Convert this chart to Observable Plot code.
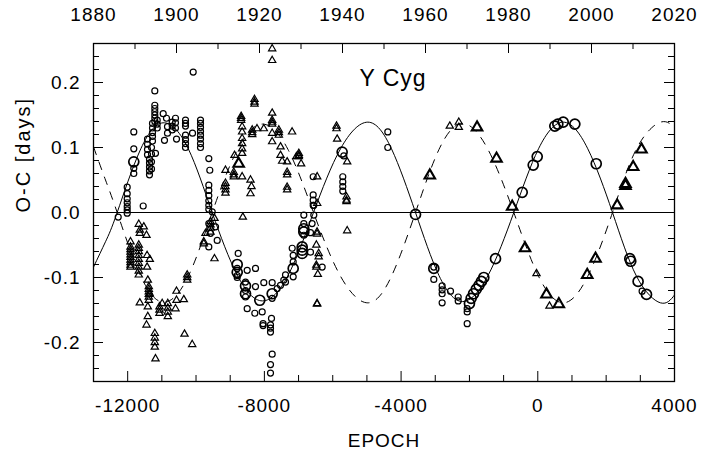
<!DOCTYPE html>
<html><head><meta charset="utf-8">
<script src="https://cdn.jsdelivr.net/npm/d3@7"></script>
<script src="https://cdn.jsdelivr.net/npm/@observablehq/plot@0.6"></script>
<style>
html,body{margin:0;padding:0;background:#fff;}
#chart svg{display:block;}
</style>
</head><body><div id="chart"></div>
<script>
// ---------- primary minima (circles): epoch, O-C [days], weight ----------
const primEpoch = [
  -12277, -12014,-12014,-12014,-12014,-12014,-12014,-12014, -11821,-11821,-11821,-11821,-11821, -11546,
  -11420,-11420,-11420,-11420, -11362,-11362,-11362,-11362,-11362, -11303,-11303,-11303,-11303,
  -11274,-11274,-11274,-11274,-11274, -11206,-11206,-11206,-11206,-11206,-11206,-11206, -11186, -11136,-11136,-11136,
  -10961, -10923, -10864, -10835,-10835, -10697,-10697,-10697, -10601,-10601,-10601, -10571,
  -10308,-10308,-10308,-10308,-10308,-10308,-10308, -10103, -10083, -9869,-9869,-9869,-9869,-9869,-9869,-9869,-9869,
  -9626,-9626,-9626,-9626,-9626,-9626,-9626, -9597, -9527, -9626, -9430, -9577, -9380, -9626,
  -8766, -8795,-8795,-8795,-8795,-8795, -8503, -8260, -8552,-8552,-8552,-8552,-8552, -8503, -8260, -8280, -8134, -8064, -8017,
  -7772,-7772,-7772, -8038,-8038, -7792, -7821,-7821,-7821,-7821,-7821, -7772, -7625, -7432, -7382,-7382, -7528,
  -7186, -7157,-7157,-7157,-7157, -6894,-6894,-6894, -6651,-6651, -6309, -6846,-6846,-6846,-6846,-6846, -6604, -6554,-6554, -6572,-6572,-6572,-6572,
  -5725, -5676, -5706,-5706,-5706,-5706, -4389,-4389,
  -3578, -3043,-3043,-3043, -2799,-2799,-2799,-2799, -2554, -2329,-2329, -2066,-2066,-2066, -2000,-1950,-1880,-1800,-1720,-1650,-1580, -1237,
  -456, -134, -17, 498, 586, 744, 1084, 1710,
  2692, 2720, 2935, 3052, 3181
];
const primOC = [
  -0.007, 0.039,0.029,0.021,0.015,0.009,0.004,-0.001, 0.124,0.098,0.078,0.068,0.060, 0.010,
  0.113,0.105,0.097,0.089, 0.082,0.076,0.070,0.064,0.058, 0.100,0.090,0.078,0.067,
  0.137,0.130,0.123,0.117,0.110, 0.187,0.165,0.160,0.155,0.150,0.145,0.140, 0.091, 0.142,0.136,0.130,
  0.152, 0.111, 0.145, 0.132,0.122, 0.139,0.133,0.127, 0.145,0.138,0.130, 0.113,
  0.142,0.137,0.133,0.119,0.112,0.106,0.100, 0.122, 0.216, 0.142,0.137,0.131,0.125,0.119,0.113,0.106,0.100,
  0.083,0.042,0.034,0.026,0.018,0.011,0.005, 0.065, 0.001, -0.017, -0.022, -0.032, -0.043, -0.053,
  -0.063, -0.080,-0.086,-0.092,-0.097,-0.100, -0.089, -0.086, -0.107,-0.113,-0.120,-0.125,-0.130, -0.148, -0.114, -0.155, -0.135, -0.153, -0.108,
  -0.108,-0.125,-0.132, -0.171,-0.174, -0.163, -0.173,-0.178,-0.184,-0.234,-0.247, -0.218, -0.117, -0.104, -0.096,-0.107, -0.112,
  -0.055, -0.066,-0.076,-0.086,-0.099, -0.053,-0.058,-0.063, -0.061,-0.031, -0.084, -0.004,-0.017,-0.025,-0.030,-0.035, -0.017, 0.011,-0.004, 0.055,0.027,0.019,0.011,
  0.093, 0.087, 0.055,0.047,0.040,0.033, 0.124, 0.100,
  -0.003, -0.086,-0.084,-0.103, -0.113,-0.119,-0.125,-0.139, -0.121, -0.130,-0.136, -0.148,-0.153,-0.171, -0.140,-0.132,-0.125,-0.118,-0.112,-0.106,-0.100, -0.071,
  0.031, 0.073, 0.086, 0.133, 0.136, 0.139, 0.136, 0.075,
  -0.071, -0.075, -0.106, -0.121, -0.126
];
const primWeight = [
  1, 1,1,1,1,1,1,1, 1,1,2,1,1, 1,
  1,1,1,1, 1,1,1,1,1, 1,1,1,1,
  1,1,1,1,1, 1,1,1,1,1,1,1, 1, 1,1,1,
  1, 1, 1, 1,1, 1,1,1, 1,1,1, 1,
  1,1,1,1,1,1,1, 1, 1, 1,1,1,1,1,1,1,1,
  1,1,1,1,1,1,1, 1, 1, 1, 1, 1, 1, 1,
  1, 2,1,2,1,1, 1, 1, 1,2,1,2,1, 1, 1, 1, 2, 1, 1,
  1,2,1, 1,1, 1, 1,1,1,1,1, 1, 1, 1, 1,1, 1,
  1, 1,1,2,1, 2,2,2, 1,1, 1, 1,1,2,2,1, 1, 1,1, 1,1,1,1,
  2, 1, 1,1,1,1, 1,1,
  2, 2,1,1, 1,1,1,1, 1, 1,1, 1,1,1, 2,2,2,2,2,2,2, 2,
  2, 2, 2, 2, 2, 2, 2, 2,
  2, 2, 2, 1, 2
];

// ---------- secondary minima (triangles): epoch, O-C [days], weight ----------
const secEpoch = [
  -11917,-11917,-11917,-11917,-11917,-11917,-11917,-11917,-11917,-11917,
  -11675, -11645,-11645, -11529, -11449,
  -11675,-11675,-11675,-11675,-11675,-11675,-11675,-11675,-11675, -11645,
  -11432,-11432, -11353,-11353, -11411,-11411,-11411, -11382,-11382,-11382,-11382,-11382,-11382, -11449,
  -11206,-11206,-11206,-11206, -11186, -11069,-11069,-11069, -10990, -10826,-10826,-10826,-10826,
  -10571,-10571, -10601, -10358, -10337, -10112, -10258,-10258,-10258,
  -9773,-9773, -9723, -9577,-9577,-9577,-9577, -9460,-9460, -8631,
  -9138,-9138,-9138,-9138,-9138, -8895,-8895,-8895, -8874, -8752,
  -8680,-8680,-8680, -8651,-8651,-8651,-8651,-8651,-8651,-8651, -8406,-8406, -8377,
  -8356,-8356,-8356, -8289,-8289,-8289, -8216, -8017,
  -7772,-7772,-7772,-7772,-7772,-7772,-7772,-7772, -7577,-7577,-7577, -7528,-7528, -7480,
  -7334,-7334,-7334,-7334,-7334, -7189, -6993,-6993,-6993, -7063, -6925,
  -6455,-6455, -5890,-5890, -5871, -5577, -5597,-5597,-5597, -5577,
  -6458,-6458, -6479, -6411,-6411, -6479,-6479, -6437, -6458,-6458,
  -3160, -2575, -2311,-2311, -1777, -1208, -749, -373, -38, 254, 342, 615, 1446, 1689, 2322, 2566,2566, 2791, 3034
];
const secOC = [
  -0.045,-0.053,-0.057,-0.061,-0.065,-0.069,-0.073,-0.077,-0.081,-0.084,
  -0.018, -0.027,-0.032, -0.022, -0.035,
  -0.050,-0.055,-0.060,-0.066,-0.072,-0.078,-0.084,-0.090,-0.096, -0.139,
  -0.066,-0.084, -0.072,-0.125, -0.104,-0.145,-0.160, -0.114,-0.118,-0.122,-0.126,-0.130,-0.135, -0.173,
  -0.186,-0.193,-0.200,-0.207, -0.225, -0.145,-0.150,-0.155, -0.140, -0.140,-0.147,-0.153,-0.160,
  -0.121,-0.135, -0.148, -0.134, -0.187, -0.203, -0.096,-0.100,-0.104,
  -0.048,-0.045, -0.032, -0.014,-0.019,-0.024,-0.030, -0.009,-0.071, -0.007,
  0.065,0.045,0.040,0.035,0.030, 0.062,0.058,0.055, 0.088, 0.075,
  0.145,0.148,0.142, 0.132,0.124,0.114,0.106,0.098,0.091,0.055, 0.050,0.029, 0.040,
  0.127,0.123,0.120, 0.170,0.174,0.167, 0.129, 0.129,
  0.252,0.234,0.153,0.139,0.142,0.136,0.122,0.109, 0.127,0.123,0.119, 0.101,0.088, 0.079,
  0.078,0.062,0.058,0.039,0.035, 0.124, 0.091,0.088,0.086, 0.086, 0.075,
  0.055,0.014, 0.129,0.133, 0.113, 0.078, 0.024,0.019,0.017, -0.028,
  -0.030,-0.033, -0.050, -0.063,-0.068, -0.081,-0.084, -0.095, -0.140,-0.141,
  0.057, 0.133, 0.139,0.131, 0.131, 0.083, 0.009, -0.055, -0.094, -0.126, -0.144, -0.141, -0.096, -0.071, 0.011, 0.044,0.041, 0.070, 0.097
];
const secWeight = [
  1,1,1,1,1,1,1,1,1,1,
  1, 1,1, 1, 1,
  1,1,1,1,1,1,1,1,1, 1,
  1,1, 1,1, 1,1,1, 1,1,1,1,1,1, 1,
  1,1,1,1, 1, 1,1,1, 1, 1,1,1,1,
  1,1, 1, 1, 1, 1, 1,1,1,
  1,1, 1, 1,1,1,1, 1,1, 1,
  1,1,1,1,1, 1,1,1, 1, 2,
  1,1,1, 1,1,1,1,1,1,1, 1,1, 1,
  1,1,1, 1,1,1, 1, 1,
  1,1,1,1,1,1,1,1, 1,1,1, 1,1, 1,
  1,1,1,1,1, 1, 1,1,1, 1, 1,
  1,1, 1,1, 1, 1, 1,1,1, 1,
  1,1, 1, 1,1, 1,1, 1, 1,1,
  2, 1, 1,1, 2, 2, 2, 2, 1, 2, 1, 2, 2, 2, 2, 2,2, 2, 2
];

// ---------- fitted apsidal-motion curves ----------
const curveEpoch = [-13000,-12649,-12307,-11616,-10923,-10226,-9527,-8787,-8055,-7309,-6563,-5773,-4974,-4281,-3578,-2891,-2203,-1457,-702,21,744,1463,2186,2888,3590,4000];
const primCurveOC = [-0.084,-0.045,0,0.098,0.138,0.098,0,-0.097,-0.136,-0.097,0,0.098,0.139,0.098,0,-0.097,-0.137,-0.097,0,0.098,0.139,0.098,0,-0.098,-0.139,-0.127];
const secCurveOC  = [0.101,0.050,0,-0.098,-0.138,-0.098,0,0.097,0.136,0.097,0,-0.098,-0.139,-0.098,0,0.097,0.137,0.097,0,-0.098,-0.139,-0.098,0,0.098,0.139,0.130];

// ---------- axes ----------
const xMajorTicks = [-12000, -8000, -4000, 0, 4000];
const xMajorLabels = ["-12000", "-8000", "-4000", "0", "4000"];
const xMinorTicks = [-13000,-11000,-10000,-9000,-7000,-6000,-5000,-3000,-2000,-1000,1000,2000,3000];
const yMajorTicks = [-0.2, -0.1, 0, 0.1, 0.2];
const yMajorLabels = ["-0.2", "-0.1", "0.0", "0.1", "0.2"];
const yMinorTicks = [-0.24,-0.22,-0.18,-0.16,-0.14,-0.12,-0.08,-0.06,-0.04,-0.02,0.02,0.04,0.06,0.08,0.12,0.14,0.16,0.18,0.22,0.24];
const yearMajor = [1880, 1900, 1920, 1940, 1960, 1980, 2000, 2020];
const yearMinor = [1890, 1910, 1930, 1950, 1970, 1990, 2010];
const xDomain = [-13000, 4000];
const yearSpan = [1880, 2020];
const title = "Y Cyg";
const xTitle = "EPOCH";
const yTitle = "O-C [days]";

// ---------- build ----------
const prim = primEpoch.map((e, i) => ({e, oc: primOC[i], w: primWeight[i]}));
const sec = secEpoch.map((e, i) => ({e, oc: secOC[i], w: secWeight[i]}));
const primCurve = curveEpoch.map((e, i) => ({e, oc: primCurveOC[i]}));
const secCurve = curveEpoch.map((e, i) => ({e, oc: secCurveOC[i]}));
const yearToEpoch = y => xDomain[0] + (y - yearSpan[0]) * (xDomain[1] - xDomain[0]) / (yearSpan[1] - yearSpan[0]);

const W = 725, H = 450, mL = 93, mR = 51, mT = 43, mB = 69;
const fw = W - mL - mR, fh = H - mT - mB;
const majorLen = 10, minorLen = 6;
const font = '"Liberation Sans", Arial, Helvetica, sans-serif';
const tickStyle = {stroke: "black", strokeWidth: 1};

const chart = Plot.plot({
  width: W, height: H,
  marginLeft: mL, marginRight: mR, marginTop: mT, marginBottom: mB,
  x: {domain: xDomain, axis: null},
  y: {domain: [-0.26, 0.26], axis: null},
  style: {fontFamily: font, background: "white", color: "black", overflow: "visible"},
  marks: [
    Plot.ruleY([0], {stroke: "black", strokeWidth: 1}),
    Plot.line(primCurve, {x: "e", y: "oc", curve: "natural", stroke: "black", strokeWidth: 1, clip: true}),
    Plot.line(secCurve, {x: "e", y: "oc", curve: "natural", stroke: "black", strokeWidth: 1, strokeDasharray: "8,8", clip: true}),
    Plot.dot(prim.filter(d => d.w === 1), {x: "e", y: "oc", r: 3, stroke: "black", strokeWidth: 1.2, fill: "none"}),
    Plot.dot(prim.filter(d => d.w === 2), {x: "e", y: "oc", r: 5, stroke: "black", strokeWidth: 1.7, fill: "none"}),
    Plot.dot(sec.filter(d => d.w === 1), {x: "e", y: "oc", symbol: "triangle", r: 2.7, stroke: "black", strokeWidth: 1.2, fill: "none"}),
    Plot.dot(sec.filter(d => d.w === 2), {x: "e", y: "oc", symbol: "triangle", r: 3.9, stroke: "black", strokeWidth: 2.1, fill: "none"}),
    Plot.frame({stroke: "black", strokeWidth: 1.3}),
    // bottom ticks
    Plot.ruleX(xMajorTicks, {x: d => d, insetTop: fh - majorLen, ...tickStyle}),
    Plot.ruleX(xMinorTicks, {x: d => d, insetTop: fh - minorLen, ...tickStyle}),
    // top ticks (years)
    Plot.ruleX(yearMajor, {x: d => yearToEpoch(d), insetBottom: fh - majorLen, ...tickStyle}),
    Plot.ruleX(yearMinor, {x: d => yearToEpoch(d), insetBottom: fh - minorLen, ...tickStyle}),
    // left & right ticks
    Plot.ruleY(yMajorTicks, {y: d => d, insetRight: fw - majorLen, ...tickStyle}),
    Plot.ruleY(yMinorTicks, {y: d => d, insetRight: fw - minorLen, ...tickStyle}),
    Plot.ruleY(yMajorTicks, {y: d => d, insetLeft: fw - majorLen, ...tickStyle}),
    Plot.ruleY(yMinorTicks, {y: d => d, insetLeft: fw - minorLen, ...tickStyle}),
    // tick labels
    Plot.text(yMajorTicks, {y: d => d, text: (d, i) => yMajorLabels[i], frameAnchor: "left", textAnchor: "end", dx: -13, fontSize: 19, fill: "black"}),
    Plot.text(xMajorTicks, {x: d => d, text: (d, i) => xMajorLabels[i], frameAnchor: "bottom", lineAnchor: "middle", dy: 24, fontSize: 19, fill: "black"}),
    Plot.text(yearMajor, {x: d => yearToEpoch(d), text: d => String(d), frameAnchor: "top", lineAnchor: "middle", dy: -29, fontSize: 19, fill: "black"}),
    // titles
    Plot.text([title], {text: d => d, frameAnchor: "top", lineAnchor: "middle", dx: 9, dy: 35, fontSize: 23, fill: "black"}),
    Plot.text([xTitle], {text: d => d, frameAnchor: "bottom", lineAnchor: "middle", dy: 59, fontSize: 19, fill: "black"}),
    Plot.text([yTitle], {text: d => d, frameAnchor: "left", lineAnchor: "middle", rotate: -90, dx: -70, fontSize: 20, fill: "black"})
  ]
});

chart.querySelectorAll("text").forEach(t => {
  const s = t.textContent;
  t.setAttribute("letter-spacing", s === yTitle ? "2px" : "1px");
});
document.getElementById("chart").appendChild(chart);
</script>
</body></html>
